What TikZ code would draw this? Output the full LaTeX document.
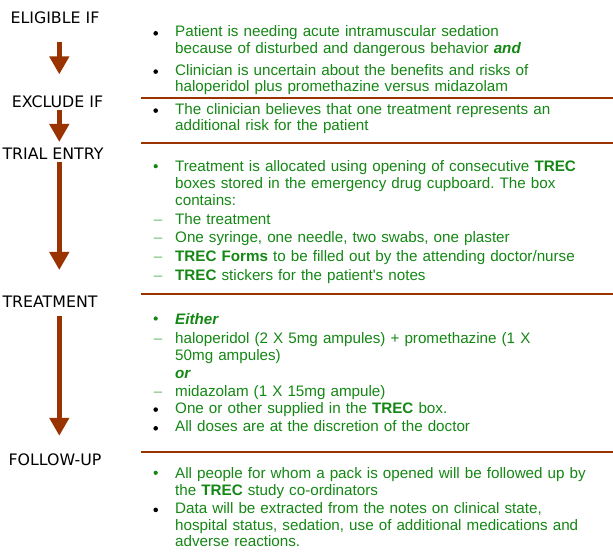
\documentclass[tikz,border=0pt]{standalone}
\usepackage{fontspec}
\newfontfamily\entryfont{Liberation Sans}
\newfontfamily\stagefont{DejaVu Sans}
\usetikzlibrary{arrows.meta}
\definecolor{rust}{RGB}{153,51,0}
\definecolor{leaf}{RGB}{20,135,20}
\definecolor{paleleaf}{RGB}{110,185,110}
\frenchspacing

\begin{document}
\begin{tikzpicture}[x=1pt,y=-1pt,
	stage/.style={font=\stagefont\fontsize{15.8}{19}\selectfont,anchor=base,inner sep=0pt},
	flow/.style={draw=rust,line width=5.5pt,-{Triangle[width=19pt,length=18pt]}},
	rule/.style={draw=rust,line width=2pt},
	entry/.style={font=\entryfont\fontsize{15.2}{16.8}\selectfont,text=leaf,anchor=base west,
		inner sep=0pt,text width=438pt,align=left},
	blackdot/.style={circle,fill=black,inner sep=0pt,minimum size=4.6pt},
	greendot/.style={circle,fill=leaf,inner sep=0pt,minimum size=4.2pt},
	dashmark/.style={font=\entryfont\fontsize{15.2}{16.8}\selectfont,text=paleleaf,anchor=base,inner sep=0pt}]
	
	\useasboundingbox (0,0) rectangle (613,555);
	
	% stages on the left
	\node[stage] (eligible) at (55,23.3) {ELIGIBLE IF};
	\node[stage] (exclude) at (57.5,107.3) {EXCLUDE IF};
	\node[stage] (trial) at (53,159) {TRIAL ENTRY};
	\node[stage] (treatment) at (50,307.3) {TREATMENT};
	\node[stage] (followup) at (55,465.7) {FOLLOW-UP};
	\coordinate (axis) at (59.3,0);
	
	\draw[flow,shorten <=18.7pt,shorten >=21pt] (eligible.south -| axis) -- (exclude.north -| axis);
	\draw[flow,shorten <=2.7pt,shorten >=5.3pt] (exclude.south -| axis) -- (trial.north -| axis);
	\draw[flow,shorten <=3pt,shorten >=25.6pt] (trial.south -| axis) -- (treatment.north -| axis);
	\draw[flow,shorten <=8.7pt,shorten >=18pt] (treatment.south -| axis) -- (followup.north -| axis);
	
	% separators
	\draw[rule] (141,97.5) -- (613,97.5);
	\draw[rule] (141,142.5) -- (613,142.5);
	\draw[rule] (141,294) -- (613,294);
	\draw[rule] (141,452) -- (613,452);
	
	% eligible if
	\node[blackdot] (d1) at (155.7,33.3) {};
	\node[entry] (needing) at (175,36.7) {Patient is needing acute intramuscular sedation\\
		because of disturbed and dangerous behavior \textbf{\textit{and}}};
	\node[blackdot] (d2) at (155.7,71.6) {};
	\node[entry] (uncertain) at (175,75) {Clinician is uncertain about the benefits and risks of\\
		haloperidol plus promethazine versus midazolam};
	
	% exclude if
	\node[blackdot] (d3) at (155.7,110.6) {};
	\node[entry] (risk) at (175,114) {The clinician believes that one treatment represents an\\
		additional risk for the patient};
	
	% trial entry
	\node[greendot] (g1) at (155.7,166.2) {};
	\node[entry] (allocated) at (175,171.7) {Treatment is allocated using opening of consecutive \textbf{TREC}\\
		boxes stored in the emergency drug cupboard. The box\\
		contains:};
	\node[dashmark] (m1) at (158,224) {–};
	\node[entry] (box1) at (175,224) {The treatment};
	\node[dashmark] (m2) at (158,242.7) {–};
	\node[entry] (box2) at (175,242.7) {One syringe, one needle, two swabs, one plaster};
	\node[dashmark] (m3) at (158,261.7) {–};
	\node[entry] (box3) at (175,261.7) {\textbf{TREC Forms} to be filled out by the attending doctor/nurse};
	\node[dashmark] (m4) at (158,280) {–};
	\node[entry] (box4) at (175,280) {\textbf{TREC} stickers for the patient's notes};
	
	% treatment
	\node[greendot] (g2) at (155.7,318.5) {};
	\node[entry] (either) at (175,324) {\textbf{\textit{Either}}};
	\node[dashmark] (m5) at (158,343) {–};
	\node[entry,font=\entryfont\fontsize{15.2}{17.8}\selectfont] (halo) at (175,343)
		{haloperidol (2 X 5mg ampules) + promethazine (1 X\\
		50mg ampules)\\
		\textbf{\textit{or}}};
	\node[dashmark] (m6) at (158,396.7) {–};
	\node[entry] (mida) at (175,396.7) {midazolam (1 X 15mg ampule)};
	\node[blackdot] (d4) at (155.7,409.6) {};
	\node[entry] (supplied) at (175,413) {One or other supplied in the \textbf{TREC} box.};
	\node[blackdot] (d5) at (155.7,428.3) {};
	\node[entry] (doses) at (175,431.7) {All doses are at the discretion of the doctor};
	
	% follow-up
	\node[greendot] (g3) at (155.7,472.8) {};
	\node[entry] (pack) at (175,478.3) {All people for whom a pack is opened will be followed up by\\
		the \textbf{TREC} study co-ordinators};
	\node[blackdot] (d6) at (155.7,509.9) {};
	\node[entry] (data) at (175,513.3) {Data will be extracted from the notes on clinical state,\\
		hospital status, sedation, use of additional medications and\\
		adverse reactions.};
\end{tikzpicture}
\end{document}
